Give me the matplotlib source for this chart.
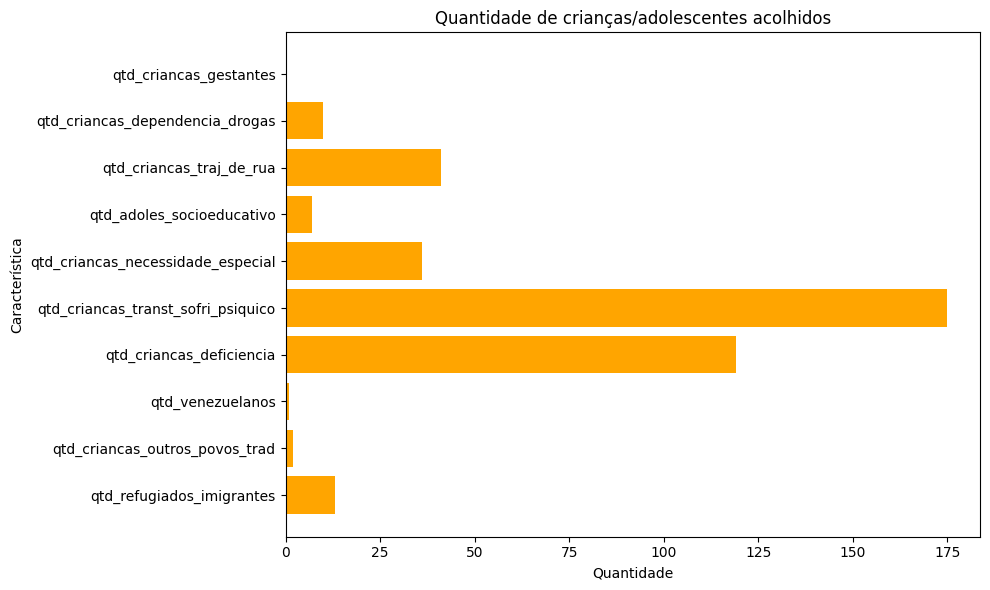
import matplotlib
matplotlib.use("Agg")
import matplotlib.pyplot as plt

categories = [
    "qtd_refugiados_imigrantes",
    "qtd_criancas_outros_povos_trad",
    "qtd_venezuelanos",
    "qtd_criancas_deficiencia",
    "qtd_criancas_transt_sofri_psiquico",
    "qtd_criancas_necessidade_especial",
    "qtd_adoles_socioeducativo",
    "qtd_criancas_traj_de_rua",
    "qtd_criancas_dependencia_drogas",
    "qtd_criancas_gestantes",
]
values = [13, 2, 1, 119, 175, 36, 7, 41, 10, 0]

fig, ax = plt.subplots(figsize=(9.9, 5.9), dpi=100)
ax.barh(categories, values, color="orange")
ax.set_title("Quantidade de crianças/adolescentes acolhidos")
ax.set_xlabel("Quantidade")
ax.set_ylabel("Característica")
fig.subplots_adjust(left=0.2884, right=0.9904, top=0.9453, bottom=0.0903)
fig.savefig("out.png")
